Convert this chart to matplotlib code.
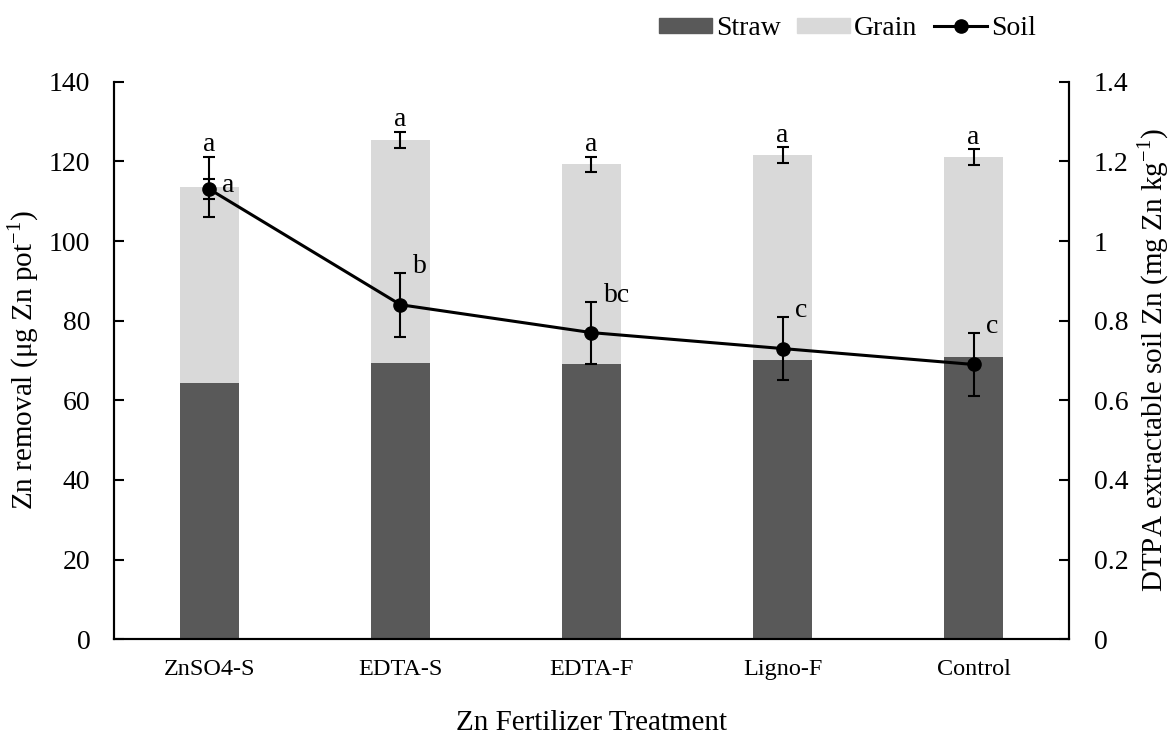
import numpy as np
import matplotlib
matplotlib.use("Agg")
import matplotlib.pyplot as plt
from matplotlib.lines import Line2D
from matplotlib.patches import Patch

plt.rcParams["font.family"] = ["Liberation Serif", "DejaVu Serif"]
plt.rcParams["mathtext.fontset"] = "custom"
plt.rcParams["mathtext.rm"] = "Liberation Serif"

treatments = ["ZnSO4-S", "EDTA-S", "EDTA-F", "Ligno-F", "Control"]
straw = [64.4, 69.3, 69.1, 70.0, 70.9]
grain = [49.2, 56.1, 50.2, 51.6, 50.1]
total_err = [7.5, 2.0, 1.9, 1.9, 2.0]
total_letters = ["a", "a", "a", "a", "a"]
soil = [1.13, 0.84, 0.77, 0.73, 0.69]
soil_err = [0.025, 0.08, 0.078, 0.078, 0.078]
soil_letters = ["a", "b", "bc", "c", "c"]

straw_col = "#595959"
grain_col = "#d9d9d9"

fig = plt.figure(figsize=(11.75, 7.36), dpi=100)
ax = fig.add_axes([0.097, 0.1314, 0.8128, 0.7576])
ax2 = ax.twinx()

x = np.arange(len(treatments))
totals = np.array(straw) + np.array(grain)
w = 0.31

ax.bar(x, straw, w, color=straw_col, zorder=2)
ax.bar(x, grain, w, bottom=straw, color=grain_col, zorder=2)
ax.errorbar(x, totals, yerr=total_err, fmt="none", ecolor="black",
            elinewidth=1.5, capsize=4.5, capthick=1.5, zorder=3)
for xi, t, e, lab in zip(x, totals, total_err, total_letters):
    ax.annotate(lab, (xi, t + e), xytext=(0, 4), textcoords="offset points",
                ha="center", va="baseline", fontsize=20)

ax2.errorbar(x, soil, yerr=soil_err, color="black", lw=2.2, marker="o",
             markersize=9.5, elinewidth=1.5, capsize=4.5, capthick=1.5, zorder=4)
for i, (xi, s, e, lab) in enumerate(zip(x, soil, soil_err, soil_letters)):
    # first letter sits beside the marker, the rest beside the top cap
    yy = s if i == 0 else s + e
    dy = -2 if i == 0 else 0
    ax2.annotate(lab, (xi, yy), xytext=(9, dy), textcoords="offset points",
                 ha="left", va="baseline", fontsize=20)

ax.set_xlim(-0.5, len(treatments) - 0.5)
ax.set_ylim(0, 140)
ax.set_yticks(np.arange(0, 141, 20))
ax2.set_ylim(0, 1.4)
ax2.set_yticks(np.arange(0, 1.41, 0.2))
ax2.set_yticklabels(["0", "0.2", "0.4", "0.6", "0.8", "1", "1.2", "1.4"])

ax.set_xticks(x)
ax.set_xticklabels(treatments, fontsize=17.5)
ax.tick_params(axis="x", direction="in", length=5, width=1.5, pad=14)
ax.tick_params(axis="y", direction="in", length=7, width=1.5, labelsize=20, pad=17)
ax2.tick_params(axis="y", direction="in", length=7, width=1.5, labelsize=20, pad=18)

for a in (ax, ax2):
    a.spines["top"].set_visible(False)
    for s in ("left", "right", "bottom"):
        a.spines[s].set_linewidth(1.5)

ax.set_ylabel(r"Zn removal (μg Zn pot$^{\mathregular{-1}}$)", fontsize=21, labelpad=6)
ax2.set_ylabel(r"DTPA extractable soil Zn (mg Zn kg$^{\mathregular{-1}}$)",
               fontsize=21, labelpad=5)
ax.set_xlabel("Zn Fertilizer Treatment", fontsize=21, labelpad=22)

handles = [Patch(color=straw_col), Patch(color=grain_col),
           Line2D([], [], color="black", lw=2.2, marker="o", markersize=9.5)]
fig.legend(handles, ["Straw", "Grain", "Soil"], loc="upper right",
           bbox_to_anchor=(0.903, 1.012), ncol=3, frameon=False, fontsize=20,
           handlelength=1.9, handleheight=0.45, handletextpad=0.15,
           columnspacing=0.6)

fig.savefig("out.png", dpi=100)
